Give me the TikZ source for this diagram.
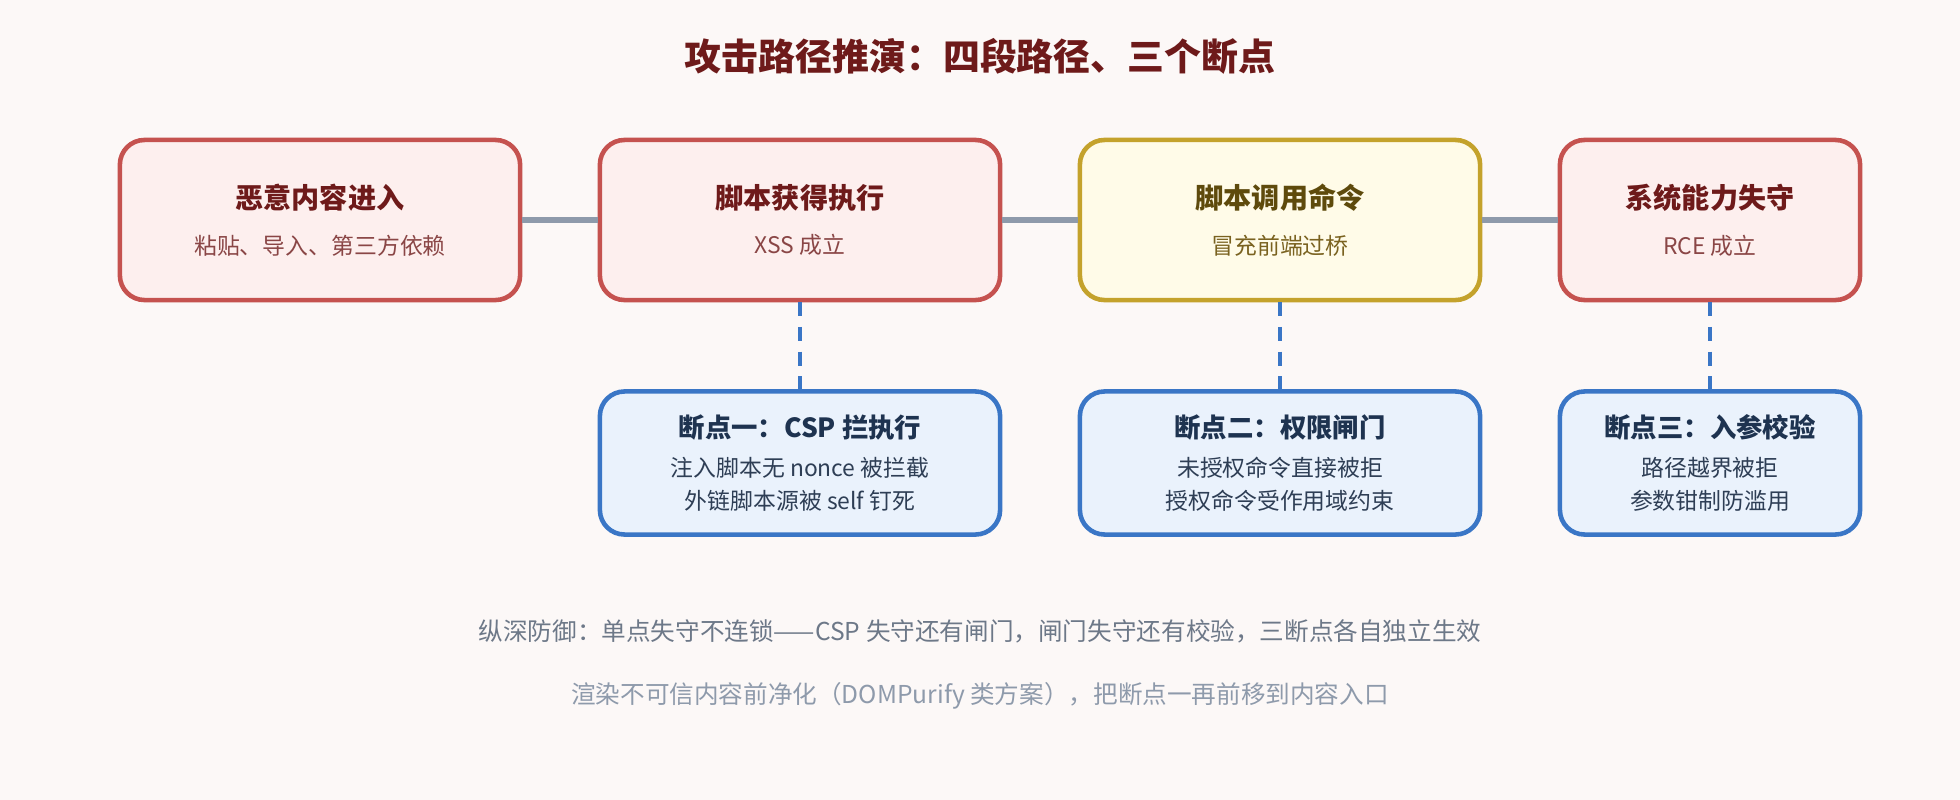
\documentclass[tikz,border=0pt]{standalone}
\usepackage{fontspec}
\setmainfont{Noto Sans CJK SC}
\usetikzlibrary{positioning}
\definecolor{bgc}{HTML}{FCF8F7}
\definecolor{redfill}{HTML}{FDEFEE}
\definecolor{redline}{HTML}{C5524F}
\definecolor{redtitle}{HTML}{6E1A1A}
\definecolor{redtext}{HTML}{8A4646}
\definecolor{yelfill}{HTML}{FFFBE8}
\definecolor{yelline}{HTML}{C4A22C}
\definecolor{yeltitle}{HTML}{5E4A0C}
\definecolor{yeltext}{HTML}{7A6220}
\definecolor{bluefill}{HTML}{EAF2FC}
\definecolor{blueline}{HTML}{3A76C6}
\definecolor{bluetitle}{HTML}{1E3350}
\definecolor{bluetext}{HTML}{2E3E55}
\definecolor{linkc}{HTML}{8E9AAB}
\tikzset{
    x=0.01cm, y=-0.01cm,
    box/.style={rounded corners=7pt, line width=1.3pt, align=center, inner sep=0pt},
    stage/.style={box, draw=redline, fill=redfill, minimum width=4cm, minimum height=1.6cm},
    caller/.style={box, draw=yelline, fill=yelfill, minimum width=4cm, minimum height=1.6cm},
    guard/.style={box, draw=blueline, fill=bluefill, minimum height=1.43cm},
    link/.style={draw=linkc, line width=1.6pt},
    cut/.style={draw=blueline, line width=1.3pt, dash pattern=on 4pt off 3pt},
}
\begin{document}
\begin{tikzpicture}
    \fill[bgc] (0,0) rectangle (1960,800);
    \useasboundingbox (0,0) rectangle (1960,800);

    % title
    \node (title) at (980,56) {\fontsize{10.5}{12}\selectfont\bfseries\color{redtitle}攻击路径推演：四段路径、三个断点};

    % four stages
    \node[stage] (s1) at (320,220) {{\fontsize{8}{10}\selectfont\bfseries\color{redtitle}恶意内容进入}\\[1pt]{\fontsize{6.5}{8}\selectfont\color{redtext}粘贴、导入、第三方依赖}};
    \node[stage] (s2) at (800,220) {{\fontsize{8}{10}\selectfont\bfseries\color{redtitle}脚本获得执行}\\[1pt]{\fontsize{6.5}{8}\selectfont\color{redtext}XSS 成立}};
    \node[caller] (s3) at (1280,220) {{\fontsize{8}{10}\selectfont\bfseries\color{yeltitle}脚本调用命令}\\[1pt]{\fontsize{6.5}{8}\selectfont\color{yeltext}冒充前端过桥}};
    \node[stage, minimum width=3cm] (s4) at (1710,220) {{\fontsize{8}{10}\selectfont\bfseries\color{redtitle}系统能力失守}\\[1pt]{\fontsize{6.5}{8}\selectfont\color{redtext}RCE 成立}};

    \draw[link] (s1) -- (s2);
    \draw[link] (s2) -- (s3);
    \draw[link] (s3) -- (s4);

    % three breakpoints
    \node[guard, minimum width=4cm] (g1) at (800,463) {{\fontsize{7.5}{9}\selectfont\bfseries\color{bluetitle}断点一：CSP 拦执行}\\[-1pt]{\fontsize{6.5}{9}\selectfont\color{bluetext}注入脚本无 nonce 被拦截}\\[-2.5pt]{\fontsize{6.5}{9}\selectfont\color{bluetext}外链脚本源被 self 钉死}};
    \node[guard, minimum width=4cm] (g2) at (1280,463) {{\fontsize{7.5}{9}\selectfont\bfseries\color{bluetitle}断点二：权限闸门}\\[-1pt]{\fontsize{6.5}{9}\selectfont\color{bluetext}未授权命令直接被拒}\\[-2.5pt]{\fontsize{6.5}{9}\selectfont\color{bluetext}授权命令受作用域约束}};
    \node[guard, minimum width=3cm] (g3) at (1710,463) {{\fontsize{7.5}{9}\selectfont\bfseries\color{bluetitle}断点三：入参校验}\\[-1pt]{\fontsize{6.5}{9}\selectfont\color{bluetext}路径越界被拒}\\[-2.5pt]{\fontsize{6.5}{9}\selectfont\color{bluetext}参数钳制防滥用}};

    \draw[cut] (s2) -- (g1);
    \draw[cut] (s3) -- (g2);
    \draw[cut] (s4) -- (g3);

    % notes
    \node (note1) at (980,631) {\fontsize{7}{9}\selectfont\color{bluetext!70}纵深防御：单点失守不连锁——CSP 失守还有闸门，闸门失守还有校验，三断点各自独立生效};
    \node (note2) at (980,696) {\fontsize{7}{9}\selectfont\color{linkc}渲染不可信内容前净化（DOMPurify 类方案），把断点一再前移到内容入口};
\end{tikzpicture}
\end{document}
